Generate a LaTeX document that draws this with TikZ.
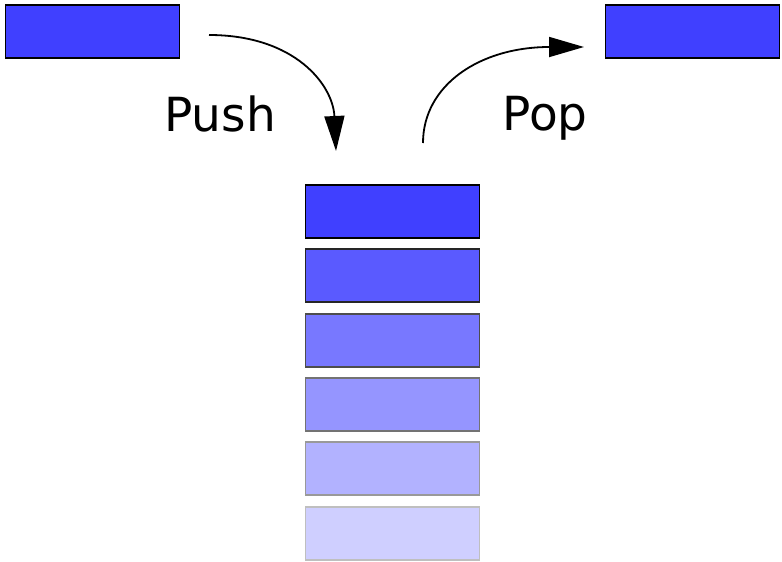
\documentclass[tikz,border=0pt]{standalone}
\usepackage{fontspec}
\setmainfont{DejaVu Sans}
\usetikzlibrary{arrows.meta}
\definecolor{boxblue}{HTML}{4040FF}
\definecolor{fillb}{HTML}{5A5AFF}
\definecolor{fillc}{HTML}{7878FF}
\definecolor{filld}{HTML}{9595FF}
\definecolor{fille}{HTML}{B2B2FF}
\definecolor{fillf}{HTML}{CFCFFF}
\definecolor{lineb}{HTML}{262626}
\definecolor{linec}{HTML}{4D4D4D}
\definecolor{lined}{HTML}{737373}
\definecolor{linee}{HTML}{999999}
\definecolor{linef}{HTML}{BFBFBF}
\tikzset{
  x=1pt,y=-1pt,
  blk/.style={draw=black,fill=boxblue,line width=1.5pt,minimum width=174pt,minimum height=53pt,inner sep=0pt,anchor=north west},
  arr/.style={line width=1.8pt,-{Triangle[length=35pt,width=20pt]}},
  lbl/.style={font=\fontsize{47}{56}\selectfont,inner sep=0pt}
}
\begin{document}
\begin{tikzpicture}
\useasboundingbox (0,0) rectangle (782,562);
\node[blk] (src) at (4.5,4) {};
\node[blk] (dst) at (604.5,4) {};
\node[blk] (s1) at (304.5,184) {};
\node[blk,draw=lineb,fill=fillb] (s2) at (304.5,248) {};
\node[blk,draw=linec,fill=fillc] (s3) at (304.5,313) {};
\node[blk,draw=lined,fill=filld] (s4) at (304.5,377) {};
\node[blk,draw=linee,fill=fille] (s5) at (304.5,441) {};
\node[blk,draw=linef,fill=fillf] (s6) at (304.5,506) {};
\coordinate (pushA) at (209,35);
\coordinate (pushB) at (336,151);
\coordinate (popA) at (423,143);
\coordinate (popB) at (584,47);
\draw[arr] (pushA) .. controls (295,35) and (333,85) .. (pushB);
\draw[arr] (popA) .. controls (423,85) and (480,47) .. (popB);
\node[lbl,anchor=base] (push) at (220,131) {Push};
\node[lbl,anchor=base] (pop) at (545,130) {Pop};
\end{tikzpicture}
\end{document}
